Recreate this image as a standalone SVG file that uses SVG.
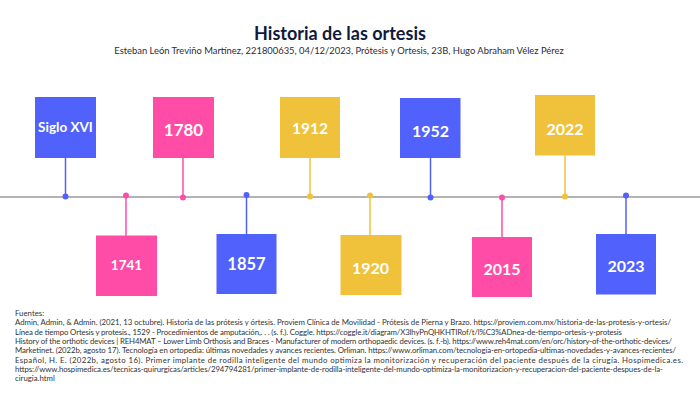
<svg xmlns="http://www.w3.org/2000/svg" width="700" height="394" viewBox="0 0 700 394">
<style>
.bg{fill:#ffffff}
.blue{fill:#5161fb}
.pink{fill:#ff4ca7}
.yel{fill:#f0c23b}
.sb{stroke:#5161fb;stroke-width:1.5}
.sp{stroke:#ff4ca7;stroke-width:1.5}
.sy{stroke:#f0c23b;stroke-width:1.5}
.lbl{font-family:Lato,"Noto Sans",sans-serif;font-weight:bold;fill:#ffffff;text-anchor:middle;dominant-baseline:central}
.title{font-family:Lato,"Noto Sans",sans-serif;font-weight:bold;font-size:18px;fill:#0f1a3c;text-anchor:middle}
.sub{font-family:Lato,"Noto Sans",sans-serif;font-size:9.4px;fill:#2b2b3a;text-anchor:middle}
.ref{font-family:Lato,"Noto Sans",sans-serif;font-size:7.8px;fill:#333333}
</style>
<rect class="bg" x="0" y="0" width="700" height="394"/>
<text class="title" x="340" y="40">Historia de las ortesis</text>
<text class="sub" x="339" y="54">Esteban León Treviño Martínez, 221800635, 04/12/2023, Prótesis y Ortesis, 23B, Hugo Abraham Vélez Pérez</text>
<g id="connectors">
<line x1="0" y1="197" x2="700" y2="197" stroke="#9a9a9a" stroke-width="1.6"/>
<line class="sb" x1="65.5" y1="158" x2="65.5" y2="196.5"/>
<circle class="blue" cx="65.5" cy="196.5" r="3"/>
<line class="sp" x1="126" y1="195.5" x2="126" y2="236"/>
<circle class="pink" cx="126" cy="195.5" r="3"/>
<line class="sp" x1="183" y1="158" x2="183" y2="197.5"/>
<circle class="pink" cx="183" cy="197.5" r="3"/>
<line class="sb" x1="246.5" y1="195" x2="246.5" y2="234"/>
<circle class="blue" cx="246.5" cy="195" r="3"/>
<line class="sy" x1="310" y1="158" x2="310" y2="196.5"/>
<circle class="yel" cx="310" cy="196.5" r="3"/>
<line class="sy" x1="370" y1="195.5" x2="370" y2="235"/>
<circle class="yel" cx="370" cy="195.5" r="3"/>
<line class="sb" x1="430.5" y1="158" x2="430.5" y2="197.5"/>
<circle class="blue" cx="430.5" cy="197.5" r="3"/>
<line class="sp" x1="502" y1="197.5" x2="502" y2="237"/>
<circle class="pink" cx="502" cy="197.5" r="3"/>
<line class="sy" x1="565" y1="155.5" x2="565" y2="196.5"/>
<circle class="yel" cx="565" cy="196.5" r="3"/>
<line class="sb" x1="626" y1="195.5" x2="626" y2="234.5"/>
<circle class="blue" cx="626" cy="195.5" r="3"/>
</g>
<g id="siglo-xvi"><rect class="blue" x="35" y="97" width="61" height="61"/><text class="lbl" x="65.5" y="127" font-size="13.5">Siglo XVI</text></g>
<g id="y1741"><rect class="pink" x="96" y="235.5" width="61" height="60.5"/><text class="lbl" x="126.5" y="265" font-size="13.5">1741</text></g>
<g id="y1780"><rect class="pink" x="153" y="97" width="61" height="61"/><text class="lbl" x="183.5" y="129" font-size="17">1780</text></g>
<g id="y1857"><rect class="blue" x="216.5" y="234" width="60" height="60"/><text class="lbl" x="246.5" y="264" font-size="16.5">1857</text></g>
<g id="y1912"><rect class="yel" x="280" y="97" width="60" height="61"/><text class="lbl" x="310" y="128" font-size="15.5">1912</text></g>
<g id="y1920"><rect class="yel" x="340.5" y="235" width="61" height="60"/><text class="lbl" x="370.5" y="267" font-size="16">1920</text></g>
<g id="y1952"><rect class="blue" x="400" y="98" width="60.5" height="60"/><text class="lbl" x="430.5" y="130" font-size="16">1952</text></g>
<g id="y2015"><rect class="pink" x="472" y="237" width="60" height="60"/><text class="lbl" x="502" y="268" font-size="16">2015</text></g>
<g id="y2022"><rect class="yel" x="535" y="95" width="60" height="60.5"/><text class="lbl" x="565" y="128" font-size="16">2022</text></g>
<g id="y2023"><rect class="blue" x="596" y="234" width="60" height="60.5"/><text class="lbl" x="626" y="265" font-size="16">2023</text></g>
<g id="sources">
<text class="ref" x="15" y="316">Fuentes:</text>
<text class="ref" x="15" y="325.3" textLength="656" lengthAdjust="spacing">Admin, Admin, &amp; Admin. (2021, 13 octubre). Historia de las prótesis y órtesis. Proviem Clínica de Movilidad - Prótesis de Pierna y Brazo. https://proviem.com.mx/historia-de-las-protesis-y-ortesis/</text>
<text class="ref" x="15" y="334.6" textLength="607" lengthAdjust="spacing">Línea de tiempo Ortesis y protesis., 1529 - Procedimientos de amputación,. . . (s. f.). Coggle. https://coggle.it/diagram/X3lhyPnQHKHTIRof/t/l%C3%ADnea-de-tiempo-ortesis-y-protesis</text>
<text class="ref" x="15" y="343.9" textLength="657" lengthAdjust="spacing">History of the orthotic devices | REH4MAT – Lower Limb Orthosis and Braces - Manufacturer of modern orthopaedic devices. (s. f.-b). https://www.reh4mat.com/en/orc/history-of-the-orthotic-devices/</text>
<text class="ref" x="15" y="353.2" textLength="661" lengthAdjust="spacing">Marketinet. (2022b, agosto 17). Tecnología en ortopedia: últimas novedades y avances recientes. Orliman. https://www.orliman.com/tecnologia-en-ortopedia-ultimas-novedades-y-avances-recientes/</text>
<text class="ref" x="15" y="362.5" textLength="668" lengthAdjust="spacing">Español, H. E. (2022b, agosto 16). Primer implante de rodilla inteligente del mundo optimiza la monitorización y recuperación del paciente después de la cirugía. Hospimedica.es.</text>
<text class="ref" x="15" y="371.8" textLength="648" lengthAdjust="spacing">https://www.hospimedica.es/tecnicas-quirurgicas/articles/294794281/primer-implante-de-rodilla-inteligente-del-mundo-optimiza-la-monitorizacion-y-recuperacion-del-paciente-despues-de-la-</text>
<text class="ref" x="15" y="381.1">cirugia.html</text>
</g>
</svg>
